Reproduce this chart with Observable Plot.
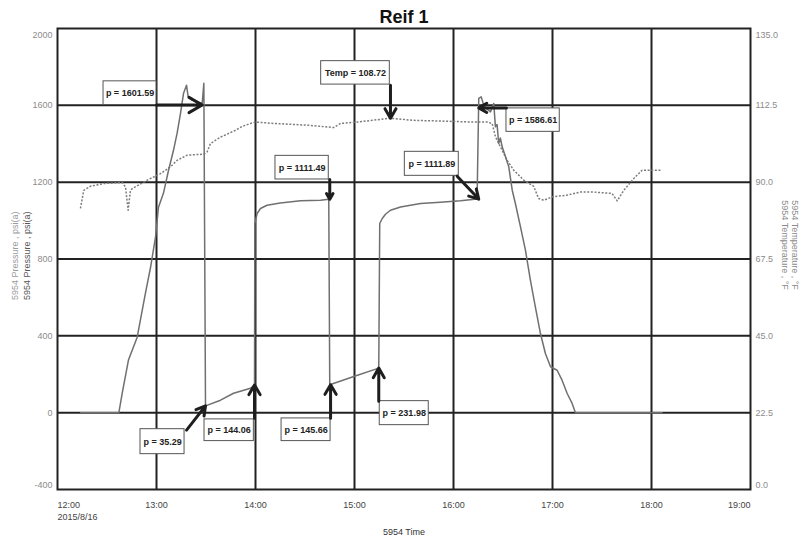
<!DOCTYPE html>
<html>
<head>
<meta charset="utf-8">
<script src="https://cdn.jsdelivr.net/npm/d3@7"></script>
<script src="https://cdn.jsdelivr.net/npm/@observablehq/plot@0.6"></script>
<style>
  html, body { margin: 0; padding: 0; background: #fff; }
  #chart { width: 809px; height: 539px; }
</style>
</head>
<body>
<div id="chart"></div>
<script>
// ---- Data (minutes after 12:00 on 2015/8/16) ----
const pressureMinutes = [14, 37.2, 39.2, 43, 48.3, 53.3, 56.4, 59.4, 61.2, 64.2, 67.3, 70.3, 72.5, 74.5, 76.4, 78.2, 79.2, 81.6, 84.7, 87.7, 88.7, 89.7,
  98.8, 106.7, 117, 119.4, 119.6, 121, 123, 127, 135, 147.3, 159.4, 164.4, 165.0,
  180, 194.7, 195.3, 196.8, 198.8, 201.8, 207.9, 220, 232, 244.2, 254.3, 255.3,
  256.8, 258.3, 260.4, 262.4, 264.4, 265.4, 266.4, 267.4, 268.4, 269.5, 271.5, 273.5, 275.6, 277.5, 280.6, 283.6, 286.6, 289.6, 292.7, 295.7, 298.8, 302.8, 305.8, 308.9, 311.9, 313.9, 366.4];
const pressureValues = [0, 0, 101, 274, 393, 622, 757, 914, 1070, 1142, 1262, 1366, 1455, 1556, 1663, 1705, 1644, 1627, 1618, 1611, 1715, 35.29,
  65, 101, 127, 144.06, 985, 1037, 1063, 1080, 1092, 1103, 1106, 1111.49, 145.66,
  190, 231.98, 985, 1011, 1033, 1054, 1071, 1089, 1096, 1103, 1111.89, 1636,
  1644, 1601, 1580, 1566, 1610, 1488, 1500, 1401, 1430, 1384, 1332, 1280, 1158, 1089, 967, 846, 690, 551, 412, 308, 239, 221, 169, 100, 48, 0, 0];

const temperatureMinutes = [13.9, 15.9, 20, 28.1, 39.2, 41.2, 42.8, 44.2, 45.3, 54.4, 62.4, 68.5, 72.5, 78.6, 88.7, 90.7, 92.7, 98.8, 104.8, 107.9, 111.9, 117, 120,
  131.1, 151.3, 167.4, 171.5, 181.6, 195.7, 201.8, 215.9, 232.1, 252.3, 260.4, 263.4, 265.4, 268.5, 272.5, 276.5, 282.6, 288.6, 291.6, 294.7, 299.8,
  308.9, 316.9, 325, 336.1, 339.2, 343.2, 349.3, 354.3, 359.4, 366.4];
const temperatureValues = [82.3, 87.6, 88.8, 89.6, 89.9, 88.6, 81.8, 87.6, 88.1, 90.6, 92.5, 94.5, 96.4, 97.9, 98.2, 98.9, 101.3, 103.2, 104.5, 105.2, 106.3, 107.2, 107.6,
  107.2, 106.7, 106.0, 107.2, 107.6, 108.4, 108.72, 108.1, 107.9, 107.6, 107.6, 107.2, 103.3, 100.3, 96.4, 93.5, 90.6, 88.8, 85.2, 84.7, 85.7,
  86.2, 87.1, 87.1, 86.7, 84.5, 87.6, 91.1, 93.5, 93.5, 93.5];

const pressureTicks = [-400, 0, 400, 800, 1200, 1600, 2000];
const temperatureTicks = [0, 22.5, 45, 67.5, 90, 112.5, 135];
const hourTicks = [12, 13, 14, 15, 16, 17, 18, 19];

// Annotations: label, annotated time (min), annotated value (psi-axis units)
const annLabels = ["p = 1601.59", "Temp = 108.72", "p = 1586.61", "p = 1111.49", "p = 1111.89", "p = 35.29", "p = 144.06", "p = 145.66", "p = 231.98"];
const annTargetMin = [87.7, 201.8, 255.3, 165.0, 255.3, 89.7, 119.4, 165.5, 194.7];
const annTargetVal = [1601.59, null, 1586.61, 1111.49, 1111.89, 35.29, 144.06, 145.66, 231.98];
const annTempValue = 108.72;
// label box extents (time min, value) and arrow tails
const annBoxMin = [[27.9, 60.0], [159.8, 201.4], [272.1, 304.4], [132.1, 164.4], [210.5, 243.2], [50.3, 77.0], [89.1, 119.0], [135.8, 165.5], [195.3, 225.0]];
const annBoxVal = [[1601.59, 1725], [1708, 1830], [1462, 1584], [1214, 1337], [1233, 1358], [-216, -86], [-148, -35], [-148, -30], [-65, 60]];
const annTail = [[60.0, 1601.59], [201.8, 1705], [272.1, 1586.61], [165.0, 1214], [242.2, 1231], [78.2, -91], [119.4, -29], [165.5, -29], [194.7, 60]];

// ---- helpers ----
const t0 = Date.UTC(2015, 7, 16, 12, 0, 0);
const toDate = m => new Date(t0 + m * 60000);
const tempToP = t => -400 + t * (2400 / 135);

const pData = pressureMinutes.map((m, i) => ({date: toDate(m), p: pressureValues[i]}));
const tData = temperatureMinutes.map((m, i) => ({date: toDate(m), t: temperatureValues[i]}));
const hours = hourTicks.map(h => toDate((h - 12) * 60));
const ann = annLabels.map((label, i) => ({
  label,
  bx1: toDate(annBoxMin[i][0]), bx2: toDate(annBoxMin[i][1]),
  by1: annBoxVal[i][0], by2: annBoxVal[i][1],
  tx: toDate(annTail[i][0]), ty: annTail[i][1],
  hx: toDate(annTargetMin[i]), hy: annTargetVal[i] == null ? tempToP(annTempValue) : annTargetVal[i]
}));

const font = "Liberation Sans, Arial, Helvetica, sans-serif";
const fmtHM = d3.utcFormat("%H:%M");
const mid = {lineAnchor: "middle"};

const chart = Plot.plot({
  width: 809,
  height: 539,
  marginLeft: 57,
  marginRight: 59,
  marginTop: 28,
  marginBottom: 50,
  style: {fontFamily: font, fontSize: "9px", background: "#fff", overflow: "visible"},
  x: {type: "utc", domain: [hours[0], hours[hours.length - 1]], axis: null},
  y: {domain: [-400, 2000], axis: null},
  marks: [
    // grid
    Plot.ruleX(hours.slice(1, -1), {stroke: "#222", strokeWidth: 2}),
    Plot.ruleY(pressureTicks.slice(1, -1), {stroke: "#222", strokeWidth: 2}),
    Plot.frame({stroke: "#222", strokeWidth: 2}),
    // series
    Plot.line(tData, {x: "date", y: d => tempToP(d.t), stroke: "#7c7c7c", strokeWidth: 1.5, strokeDasharray: "2,1.6", strokeLinecap: "butt"}),
    Plot.line(pData, {x: "date", y: "p", stroke: "#707070", strokeWidth: 1.5}),
    // left tick labels
    Plot.text(pressureTicks.slice(1, -1), {...mid, y: d => d, frameAnchor: "left", dx: -5, textAnchor: "end", text: d => String(d), fill: "#8c8c8c"}),
    Plot.text([2000], {...mid, y: d => d, frameAnchor: "left", dx: -5, dy: 7, textAnchor: "end", text: d => String(d), fill: "#8c8c8c"}),
    Plot.text([-400], {...mid, y: d => d, frameAnchor: "left", dx: -5, dy: -4, textAnchor: "end", text: d => String(d), fill: "#8c8c8c"}),
    // right tick labels
    Plot.text(temperatureTicks.slice(1, -1), {...mid, y: d => tempToP(d), frameAnchor: "right", dx: 5, textAnchor: "start", text: d => d.toFixed(1), fill: "#8c8c8c"}),
    Plot.text([135], {...mid, y: d => tempToP(d), frameAnchor: "right", dx: 5, dy: 7, textAnchor: "start", text: d => d.toFixed(1), fill: "#8c8c8c"}),
    Plot.text([0], {...mid, y: d => tempToP(d), frameAnchor: "right", dx: 5, dy: -4, textAnchor: "start", text: d => d.toFixed(1), fill: "#8c8c8c"}),
    // x tick labels
    Plot.text(hours.slice(1, -1), {...mid, x: d => d, frameAnchor: "bottom", dy: 16, textAnchor: "middle", text: d => fmtHM(d), fill: "#444"}),
    Plot.text([hours[0]], {...mid, x: d => d, frameAnchor: "bottom", dy: 16, textAnchor: "start", text: d => fmtHM(d), fill: "#444"}),
    Plot.text([hours[hours.length - 1]], {...mid, x: d => d, frameAnchor: "bottom", dy: 16, textAnchor: "end", text: d => fmtHM(d), fill: "#444"}),
    Plot.text([hours[0]], {...mid, x: d => d, frameAnchor: "bottom", dy: 28, textAnchor: "start", text: () => "2015/8/16", fill: "#444"}),
    Plot.text(["5954 Time"], {...mid, frameAnchor: "bottom", dy: 43, textAnchor: "middle", text: d => d, fill: "#333"}),
    // axis titles
    Plot.text(["5954 Pressure , psi(a)"], {...mid, frameAnchor: "left", dx: -42, dy: 41, textAnchor: "start", rotate: -90, text: d => d, fill: "#9a9a9a"}),
    Plot.text(["5954 Pressure , psi(a)"], {...mid, frameAnchor: "left", dx: -30, dy: 41, textAnchor: "start", rotate: -90, text: d => d, fill: "#555"}),
    Plot.text(["5954 Temperature , °F"], {...mid, frameAnchor: "right", dx: 34, dy: -14, textAnchor: "middle", rotate: 90, text: d => d, fill: "#8a8a8a"}),
    Plot.text(["5954 Temperature , °F"], {...mid, frameAnchor: "right", dx: 44, dy: -14, textAnchor: "middle", rotate: 90, text: d => d, fill: "#8a8a8a"}),
    // title
    Plot.text(["Reif 1"], {...mid, frameAnchor: "top", dy: -11, textAnchor: "middle", text: d => d, fontSize: 18, fontWeight: "bold", fill: "#111"}),
    // annotations
    Plot.rect(ann, {x1: "bx1", x2: "bx2", y1: "by1", y2: "by2", fill: "white", stroke: "#555", strokeWidth: 1}),
    Plot.text(ann, {...mid, x: d => new Date((+d.bx1 + +d.bx2) / 2), y: d => (d.by1 + d.by2) / 2, text: "label", fontWeight: "bold", fill: "#222", fontSize: 9, style: "letter-spacing:-0.3px"}),
    Plot.arrow(ann, {x1: "tx", y1: "ty", x2: "hx", y2: "hy", stroke: "#1e1e1e", strokeWidth: 3, headLength: 11})
  ]
});
document.getElementById("chart").append(chart);
</script>
</body>
</html>
